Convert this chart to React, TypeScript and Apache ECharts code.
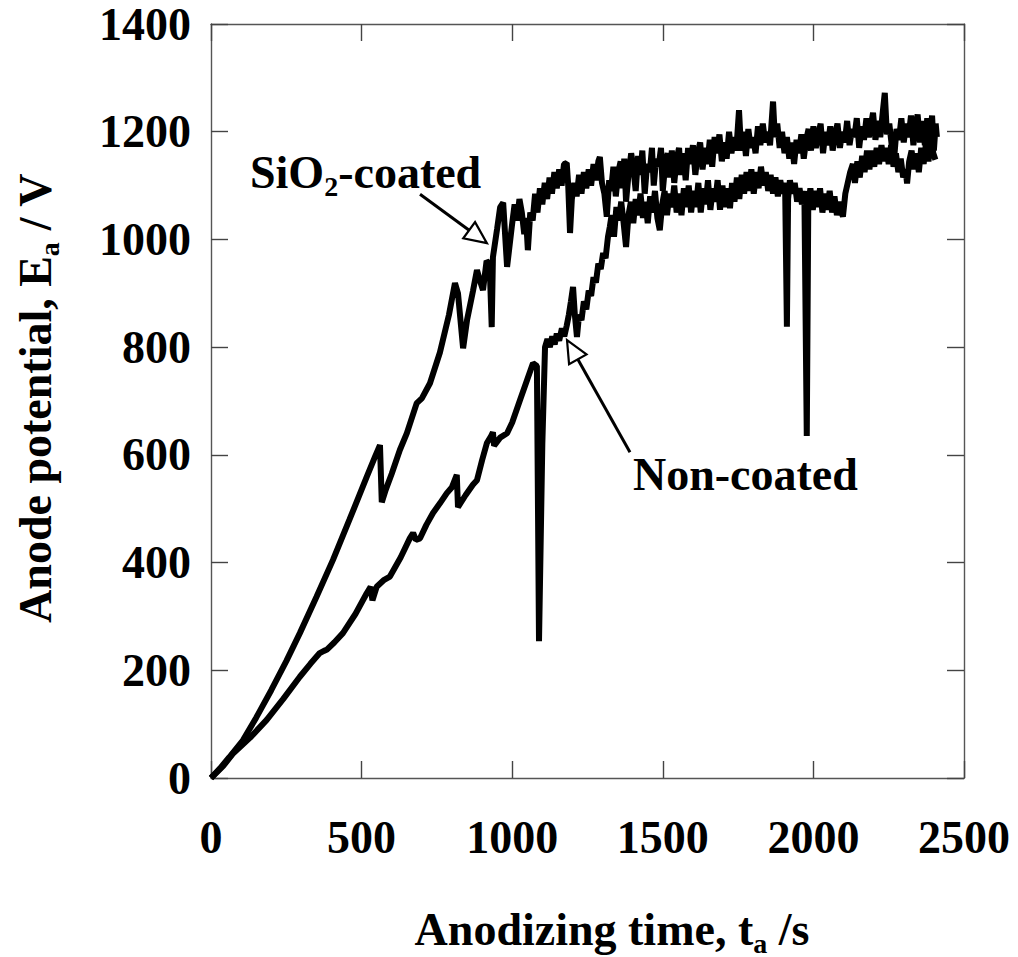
import React, { useEffect, useRef } from "react";
import * as echarts from "echarts";

// ---- data ----
const xMin = 0;
const xMax = 2500;
const xStep = 500;
const yMin = 0;
const yMax = 1400;
const yStep = 200;

// SiO2-coated specimen: [time / s, potential / V]
const sio2Coated: [number, number][] = [
  [0, 0], [30, 18], [60, 38], [106, 70], [150, 112], [200, 163], [250, 217],
  [295, 269], [350, 336], [405, 405], [460, 480], [517, 559], [545, 597],
  [561, 618], [567, 512], [580, 535], [600, 565], [627, 609], [650, 640],
  [683, 696], [700, 705], [727, 733], [760, 790], [790, 860], [810, 919],
  [820, 900], [837, 798], [850, 850], [870, 905], [883, 943], [895, 920],
  [903, 906], [915, 960], [925, 955], [932, 837], [936, 967], [950, 1020],
  [960, 1060], [970, 1068], [983, 949], [1000, 1030], [1008, 1065],
  [1016, 1035], [1024, 1075], [1032, 1050], [1040, 1010], [1046, 1040],
  [1052, 980], [1060, 1050], [1068, 1035], [1076, 1085], [1084, 1050],
  [1092, 1095], [1100, 1065], [1108, 1105], [1116, 1075], [1124, 1115],
  [1132, 1085], [1140, 1125], [1148, 1095], [1156, 1130], [1164, 1100],
  [1172, 1140], [1181, 1142], [1186, 1100], [1192, 1012], [1198, 1075],
  [1206, 1105], [1214, 1080], [1222, 1120], [1230, 1085], [1238, 1125],
  [1246, 1095], [1254, 1130], [1262, 1100], [1270, 1140], [1278, 1110],
  [1286, 1145], [1291, 1153], [1298, 1105], [1306, 1085], [1314, 1042],
  [1322, 1110], [1328, 1090], [1336, 1135], [1344, 1080], [1352, 1125],
  [1360, 1145], [1366, 1095], [1372, 1150], [1378, 1070], [1386, 1120],
  [1395, 1160], [1402, 1135], [1410, 1090], [1418, 1155], [1426, 1120],
  [1432, 1165], [1440, 1085], [1448, 1140], [1457, 1125], [1464, 1170],
  [1470, 1100], [1478, 1150], [1486, 1135], [1494, 1170], [1500, 1090],
  [1508, 1140], [1516, 1160], [1524, 1115], [1530, 1165], [1538, 1105],
  [1546, 1150], [1554, 1170], [1560, 1120], [1568, 1160], [1576, 1110],
  [1584, 1170], [1592, 1140], [1600, 1175], [1608, 1120], [1616, 1160],
  [1624, 1180], [1632, 1130], [1640, 1170], [1648, 1140], [1656, 1185],
  [1664, 1135], [1672, 1190], [1680, 1160], [1688, 1195], [1696, 1145],
  [1704, 1180], [1712, 1150], [1720, 1200], [1728, 1160], [1736, 1190],
  [1744, 1165], [1753, 1240], [1760, 1165], [1768, 1200], [1776, 1155],
  [1784, 1205], [1792, 1170], [1800, 1190], [1808, 1160], [1816, 1210],
  [1824, 1175], [1832, 1215], [1840, 1180], [1848, 1200], [1856, 1175],
  [1866, 1256], [1872, 1190], [1880, 1215], [1888, 1170], [1896, 1200],
  [1904, 1160], [1912, 1190], [1920, 1150], [1928, 1180], [1936, 1140],
  [1944, 1185], [1952, 1160], [1960, 1195], [1968, 1150], [1976, 1185],
  [1984, 1205], [1992, 1165], [2000, 1210], [2008, 1170], [2016, 1195],
  [2024, 1215], [2032, 1160], [2040, 1200], [2048, 1175], [2056, 1210],
  [2064, 1165], [2072, 1195], [2080, 1215], [2088, 1170], [2096, 1200],
  [2104, 1180], [2112, 1220], [2120, 1175], [2128, 1205], [2136, 1190],
  [2144, 1225], [2152, 1170], [2160, 1210], [2168, 1185], [2176, 1225],
  [2184, 1190], [2192, 1215], [2198, 1235], [2206, 1185], [2214, 1220],
  [2222, 1190], [2230, 1235], [2237, 1272], [2244, 1195], [2252, 1215],
  [2260, 1175], [2268, 1150], [2276, 1205], [2284, 1185], [2292, 1225],
  [2300, 1180], [2308, 1215], [2316, 1190], [2324, 1230], [2332, 1175],
  [2340, 1215], [2346, 1232], [2354, 1180], [2362, 1220], [2370, 1175],
  [2378, 1225], [2386, 1185], [2394, 1230], [2400, 1165], [2406, 1215],
  [2410, 1190],
];

// Non-coated specimen: [time / s, potential / V]
const nonCoated: [number, number][] = [
  [0, 0], [40, 22], [74, 46], [130, 75], [185, 108], [240, 147], [295, 188],
  [330, 212], [361, 232], [375, 236], [384, 238], [410, 252], [438, 269],
  [480, 305], [517, 343], [530, 355], [536, 330], [550, 355], [575, 368],
  [594, 374], [630, 410], [660, 445], [671, 455], [680, 442], [694, 445],
  [715, 470], [737, 492], [760, 510], [783, 529], [800, 540], [816, 563],
  [820, 503], [845, 525], [870, 545], [883, 553], [900, 590], [916, 622],
  [930, 635], [936, 642], [940, 617], [960, 632], [983, 640], [1000, 660],
  [1026, 702], [1050, 740], [1069, 770], [1082, 765], [1089, 254], [1100, 620],
  [1109, 800], [1117, 815], [1125, 800], [1133, 820], [1141, 805], [1148, 825],
  [1156, 812], [1165, 835], [1173, 820], [1181, 840], [1188, 860], [1195, 885],
  [1202, 912], [1208, 860], [1215, 819], [1222, 860], [1230, 850], [1238, 885],
  [1246, 870], [1254, 905], [1262, 895], [1270, 930], [1278, 920], [1286, 955],
  [1294, 945], [1302, 975], [1310, 965], [1318, 1005], [1324, 1023],
  [1330, 1045], [1338, 1005], [1346, 1060], [1354, 1035], [1362, 1070],
  [1370, 1030], [1378, 986], [1386, 1045], [1394, 1070], [1402, 1030],
  [1410, 1075], [1418, 1045], [1426, 1085], [1434, 1040], [1442, 1070],
  [1450, 1030], [1458, 1080], [1466, 1050], [1474, 1090], [1482, 1040],
  [1490, 1017], [1498, 1065], [1506, 1090], [1514, 1045], [1522, 1085],
  [1530, 1060], [1538, 1100], [1546, 1050], [1554, 1085], [1562, 1045],
  [1570, 1095], [1578, 1060], [1586, 1100], [1594, 1050], [1602, 1090],
  [1610, 1060], [1618, 1105], [1626, 1050], [1634, 1095], [1642, 1065],
  [1650, 1110], [1658, 1055], [1666, 1095], [1674, 1070], [1682, 1110],
  [1690, 1055], [1698, 1100], [1706, 1060], [1714, 1095], [1723, 1058],
  [1730, 1105], [1738, 1070], [1746, 1115], [1754, 1075], [1762, 1120],
  [1770, 1085], [1778, 1125], [1786, 1090], [1794, 1130], [1802, 1085],
  [1810, 1125], [1818, 1095], [1826, 1135], [1834, 1100], [1842, 1125],
  [1850, 1090], [1858, 1120], [1866, 1085], [1874, 1115], [1882, 1080],
  [1890, 1110], [1898, 1085], [1906, 1105], [1912, 838], [1916, 1075],
  [1922, 1110], [1930, 1085], [1938, 1105], [1946, 1070], [1954, 1095],
  [1962, 1065], [1970, 1090], [1978, 635], [1983, 1065], [1990, 1095],
  [1998, 1055], [2006, 1090], [2014, 1060], [2022, 1095], [2030, 1050],
  [2038, 1085], [2046, 1055], [2054, 1090], [2062, 1050], [2070, 1080],
  [2078, 1045], [2086, 1070], [2094, 1050], [2098, 1042], [2106, 1085],
  [2114, 1105], [2122, 1125], [2131, 1140], [2138, 1105], [2146, 1145],
  [2154, 1115], [2162, 1155], [2170, 1125], [2178, 1165], [2186, 1130],
  [2194, 1165], [2202, 1135], [2210, 1170], [2218, 1140], [2226, 1175],
  [2234, 1145], [2242, 1170], [2250, 1140], [2258, 1175], [2266, 1135],
  [2274, 1160], [2282, 1125], [2290, 1150], [2298, 1115], [2306, 1130],
  [2311, 1104], [2318, 1145], [2326, 1165], [2334, 1130], [2342, 1160],
  [2350, 1125], [2358, 1170], [2366, 1140], [2374, 1180], [2382, 1145],
  [2390, 1190], [2398, 1160], [2405, 1148],
];

// annotation arrows in data units: tail -> tip
const sio2ArrowFrom: [number, number] = [694, 1084];
const sio2ArrowTo: [number, number] = [916, 993];
const nonArrowFrom: [number, number] = [1391, 605];
const nonArrowTo: [number, number] = [1182, 813];

const sio2Label = "{m|SiO}{s|2}{m|-coated}";
const nonLabel = "{m|Non-coated}";
const xTitle = "{m|Anodizing time, t}{s|a}{m| /s}";
const yTitle = "{m|Anode potential, E}{s|a}{m| / V}";

const FONT = '"Liberation Serif", "Times New Roman", serif';
const FS = 46;

const rich = {
  m: { fontSize: FS, fontWeight: "bold", fontFamily: FONT, lineHeight: 56, fill: "#000", color: "#000" },
  s: { fontSize: 28, fontWeight: "bold", fontFamily: FONT, lineHeight: 25, verticalAlign: "bottom", fill: "#000", color: "#000" },
};

function arrow(a: number[], b: number[]) {
  const [x1, y1] = a;
  const [x2, y2] = b;
  const L = Math.hypot(x2 - x1, y2 - y1);
  const ux = (x2 - x1) / L;
  const uy = (y2 - y1) / L;
  const hl = 22;
  const hw = 10;
  const bx = x2 - ux * hl;
  const by = y2 - uy * hl;
  const px = -uy;
  const py = ux;
  return [
    { type: "line", shape: { x1, y1, x2: bx, y2: by }, style: { stroke: "#000", lineWidth: 3 } },
    {
      type: "polygon",
      shape: { points: [[x2, y2], [bx + px * hw, by + py * hw], [bx - px * hw, by - py * hw]] },
      style: { fill: "#fff", stroke: "#000", lineWidth: 2.2 },
    },
  ];
}

export default function App() {
  const ref = useRef<HTMLDivElement>(null);
  useEffect(() => {
    if (!ref.current) return;
    const chart = echarts.init(ref.current, undefined, { renderer: "svg" });
    const axisLine = { show: true, onZero: false, lineStyle: { color: "#555", width: 1.4 } };
    const axisTick = { show: true, inside: true, length: 17, lineStyle: { color: "#444", width: 1.4 } };
    const label = {
      color: "#000", fontFamily: FONT, fontWeight: "bold", fontSize: FS,
      formatter: (v: number) => String(v),
    };
    const lineStyle = { color: "#000", width: 6, join: "bevel" };
    chart.setOption({
      animation: false,
      backgroundColor: "#fff",
      grid: { left: 211, top: 24, width: 753, height: 754 },
      xAxis: [
        {
          type: "value", min: xMin, max: xMax, interval: xStep, position: "bottom",
          axisLine, axisTick, splitLine: { show: false },
          axisLabel: { ...label, margin: 36 },
        },
        {
          type: "value", min: xMin, max: xMax, interval: xStep, position: "top",
          axisLine, axisTick, splitLine: { show: false }, axisLabel: { show: false },
        },
      ],
      yAxis: [
        {
          type: "value", min: yMin, max: yMax, interval: yStep, position: "left",
          axisLine, axisTick, splitLine: { show: false },
          axisLabel: { ...label, margin: 20 },
        },
        {
          type: "value", min: yMin, max: yMax, interval: yStep, position: "right",
          axisLine, axisTick, splitLine: { show: false }, axisLabel: { show: false },
        },
      ],
      series: [
        { name: "SiO2-coated", type: "line", data: sio2Coated, showSymbol: false, lineStyle, xAxisIndex: 0, yAxisIndex: 0 },
        { name: "Non-coated", type: "line", data: nonCoated, showSymbol: false, lineStyle, xAxisIndex: 0, yAxisIndex: 0 },
      ],
    });
    const toPx = (d: number[]) => chart.convertToPixel({ xAxisIndex: 0, yAxisIndex: 0 }, d) as number[];
    chart.setOption({
      graphic: [
        ...arrow(toPx(sio2ArrowFrom), toPx(sio2ArrowTo)),
        ...arrow(toPx(nonArrowFrom), toPx(nonArrowTo)),
        {
          type: "text", x: 250, y: 172,
          style: { text: sio2Label, rich, align: "left", verticalAlign: "middle" },
        },
        {
          type: "text", x: 633, y: 474,
          style: { text: nonLabel, rich, align: "left", verticalAlign: "middle" },
        },
        {
          type: "text", x: 612, y: 929,
          style: { text: xTitle, rich, align: "center", verticalAlign: "middle" },
        },
        {
          type: "text", x: 35, y: 398, rotation: Math.PI / 2,
          style: { text: yTitle, rich, align: "center", verticalAlign: "middle" },
        },
      ],
    });
    return () => chart.dispose();
  }, []);
  return (
    <div
      ref={ref}
      style={{ position: "absolute", left: 0, top: 0, width: 1018, height: 957, background: "#fff" }}
    />
  );
}
